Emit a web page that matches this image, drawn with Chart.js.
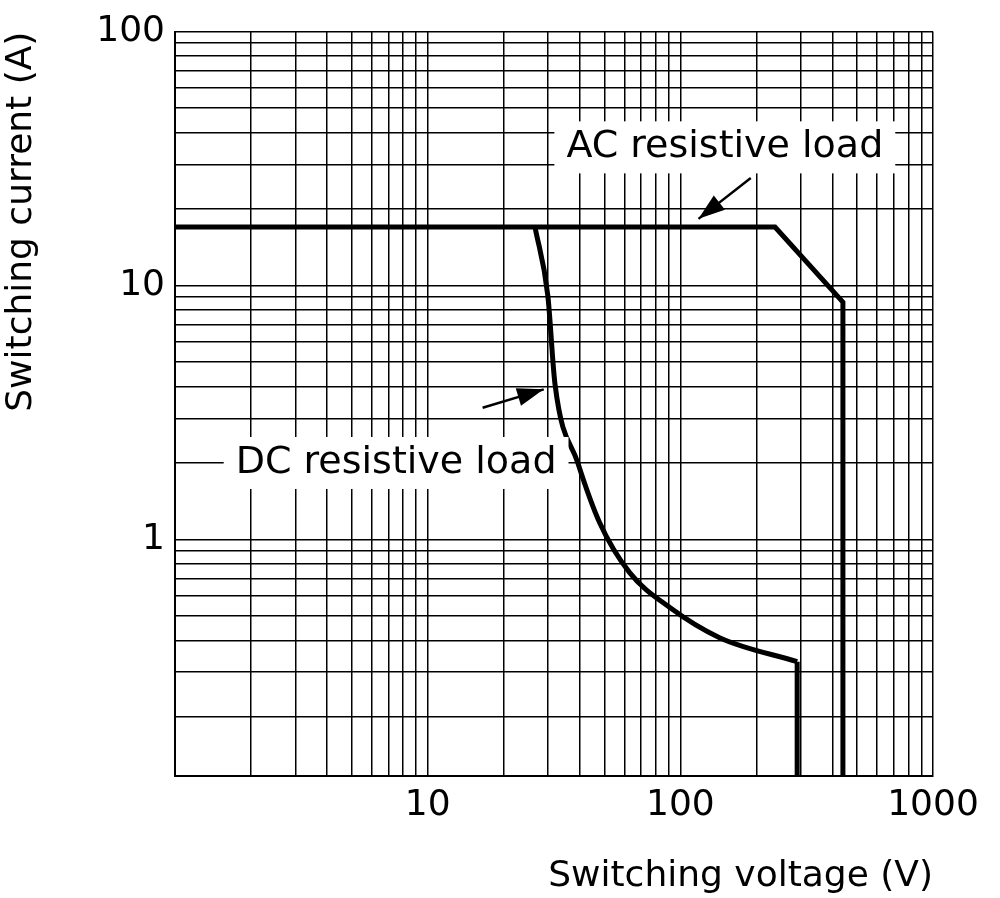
<!DOCTYPE html>
<html>
<head>
<meta charset="utf-8">
<script src="https://cdn.jsdelivr.net/npm/chart.js@4.4.1/dist/chart.umd.min.js"></script>
<style>
  html, body { margin: 0; padding: 0; background: #fff; }
  #wrap { width: 1000px; height: 898px; }
</style>
</head>
<body>
<div id="wrap"><canvas id="c"></canvas></div>
<script>
// data
const acVoltage = [1, 237, 440, 440];
const acCurrent = [17, 17, 8.6, 0.117];
const dcVoltage = [26.6, 29.9, 31.9, 39.3, 48, 63, 90.6, 143, 290];
const dcCurrent = [17, 9.1, 4.1, 2.0, 1.16, 0.74, 0.54, 0.41, 0.33];
const dcDropVoltage = [290, 290];
const dcDropCurrent = [0.33, 0.117];
const xMajor = [10, 100, 1000];
const yMajor = [1, 10, 100];
const font = "'DejaVu Sans', sans-serif";

function decadeTicks(min, max) {
    const out = [];
    for (let d = Math.floor(Math.log10(min)); d < Math.log10(max); d++) {
        for (let m = 1; m <= 9; m++) {
            const v = m * Math.pow(10, d);
            if (v >= min * 0.999 && v <= max * 1.001) out.push({ value: v });
        }
    }
    out.push({ value: max });
    return out;
}

// labels and arrows
const notes = {
    id: 'notes',
    afterDatasetsDraw(chart) {
        const ctx = chart.ctx, x = chart.scales.x, y = chart.scales.y;
        ctx.save();
        ctx.font = '38px ' + font;
        ctx.textBaseline = 'middle';
        ctx.textAlign = 'center';
        const box = (text, vx, vy) => {
            const px = x.getPixelForValue(vx), py = y.getPixelForValue(vy);
            const w = ctx.measureText(text).width + 24;
            ctx.fillStyle = '#fff';
            ctx.fillRect(px - w / 2, py - 26, w, 52);
            ctx.fillStyle = '#000';
            ctx.fillText(text, px, py);
        };
        box('AC resistive load', 150, 35);
        box('DC resistive load', 7.5, 2.0);
        const arrow = (x1, y1, x2, y2) => {
            const a = x.getPixelForValue(x1), b = y.getPixelForValue(y1);
            const c = x.getPixelForValue(x2), d = y.getPixelForValue(y2);
            ctx.strokeStyle = '#000';
            ctx.lineWidth = 2.5;
            ctx.beginPath(); ctx.moveTo(a, b); ctx.lineTo(c, d); ctx.stroke();
            const ang = Math.atan2(d - b, c - a);
            ctx.beginPath();
            ctx.moveTo(c, d);
            ctx.lineTo(c - 28 * Math.cos(ang - 0.33), d - 28 * Math.sin(ang - 0.33));
            ctx.lineTo(c - 28 * Math.cos(ang + 0.33), d - 28 * Math.sin(ang + 0.33));
            ctx.closePath();
            ctx.fillStyle = '#000';
            ctx.fill();
        };
        arrow(190, 26.5, 118, 18.3);
        arrow(16.5, 3.3, 28.8, 3.9);
        ctx.restore();
    }
};

const line = d => Object.assign(d, { showLine: true, borderColor: '#000', borderWidth: 5, pointRadius: 0, fill: false });

new Chart(document.getElementById('c'), {
    type: 'scatter',
    data: {
        datasets: [
            line({ data: acVoltage.map((v, i) => ({ x: v, y: acCurrent[i] })) }),
            line({ data: dcVoltage.map((v, i) => ({ x: v, y: dcCurrent[i] })), cubicInterpolationMode: 'monotone' }),
            line({ data: dcDropVoltage.map((v, i) => ({ x: v, y: dcDropCurrent[i] })) })
        ]
    },
    options: {
        responsive: true,
        maintainAspectRatio: false,
        animation: false,
        layout: { padding: { top: 12, right: 67, left: 0, bottom: 0 } },
        plugins: { legend: { display: false }, tooltip: { enabled: false } },
        scales: {
            x: {
                type: 'logarithmic', min: 1, max: 1000,
                afterBuildTicks: s => { s.ticks = decadeTicks(1, 1000); },
                afterFit: s => { s.height = 122; },
                border: { color: '#000', width: 2 },
                grid: { color: '#000', lineWidth: 1.5, drawTicks: false },
                ticks: {
                    autoSkip: false, maxRotation: 0, padding: 8, color: '#000',
                    font: { family: font, size: 36 },
                    callback: v => xMajor.includes(v) ? String(v) : ''
                },
                title: { display: true, text: 'Switching voltage (V)', color: '#000', font: { family: font, size: 36 }, padding: { top: -14, bottom: 0 }, align: 'end' }
            },
            y: {
                type: 'logarithmic', min: 0.117, max: 100,
                afterBuildTicks: s => { s.ticks = decadeTicks(0.117, 100).filter(t => t.value > 0.117); },
                afterFit: s => { s.width = 175; },
                border: { color: '#000', width: 2 },
                grid: { color: '#000', lineWidth: 1.5, drawTicks: false },
                ticks: {
                    autoSkip: false, padding: 10, color: '#000',
                    font: { family: font, size: 36 },
                    callback: v => yMajor.includes(v) ? String(v) : ''
                },
                title: { display: true, text: 'Switching current (A)', color: '#000', font: { family: font, size: 36 }, padding: { top: 0, bottom: 6 }, align: 'end' }
            }
        }
    },
    plugins: [notes]
});
</script>
</body>
</html>
